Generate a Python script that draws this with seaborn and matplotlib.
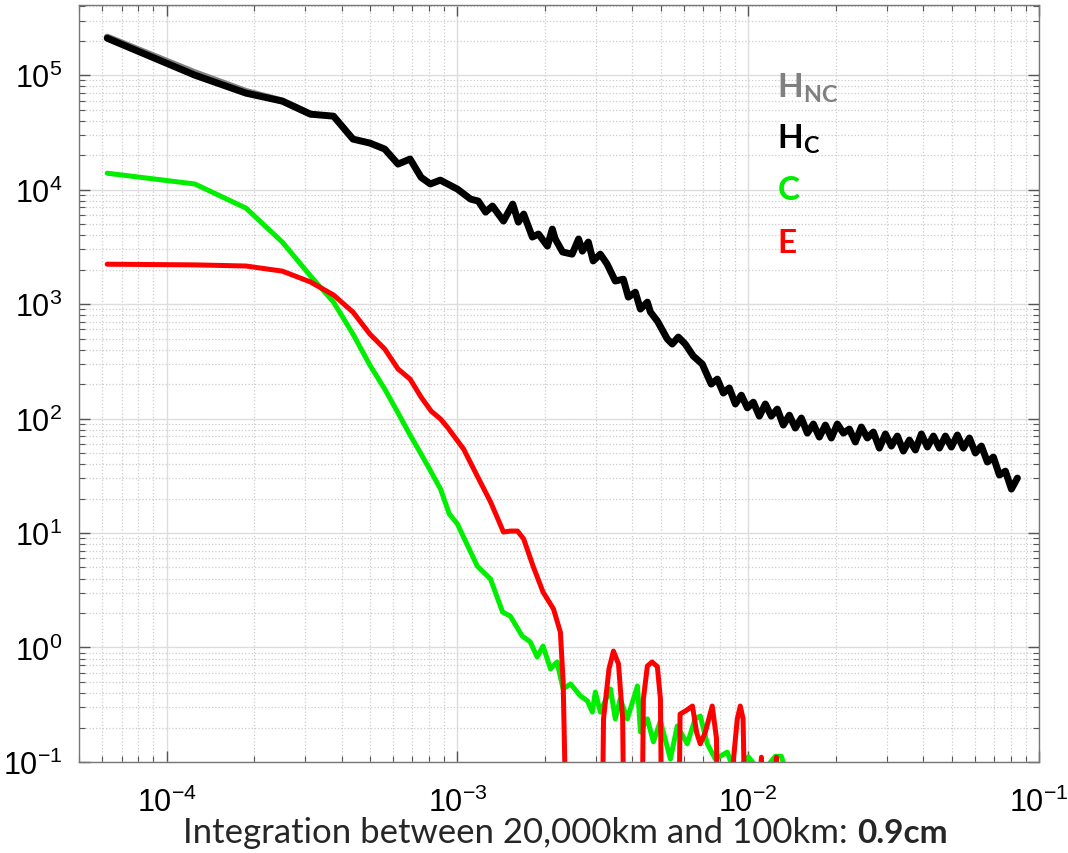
import matplotlib
matplotlib.use("Agg")
import matplotlib.pyplot as plt
from matplotlib.ticker import LogLocator, NullFormatter
import numpy as np
import pandas as pd
import seaborn as sns

# wavenumber (x) and spectral values
hnc_k = [6.25e-5, 1.25e-4, 1.875e-4, 2.5e-4, 3.125e-4]
hnc_val = [2.15e5, 1.05e5, 7.2e4, 5.95e4, 4.56e4]

hc_k = [6.25e-5, 1.25e-4, 1.875e-4, 2.5e-4, 3.125e-4, 3.75e-4, 4.375e-4, 5.0e-4, 5.625e-4, 6.25e-4,
        6.875e-4, 7.5e-4, 8.07e-4, 8.73e-4, 1.0e-3, 1.11e-3, 1.18e-3, 1.25e-3, 1.32e-3, 1.44e-3,
        1.55e-3, 1.62e-3, 1.69e-3, 1.81e-3, 1.90e-3, 2.04e-3, 2.12e-3, 2.17e-3, 2.30e-3, 2.48e-3,
        2.61e-3, 2.69e-3, 2.82e-3, 2.93e-3, 3.10e-3, 3.27e-3, 3.49e-3, 3.72e-3, 3.87e-3, 4.09e-3,
        4.26e-3, 4.50e-3, 4.61e-3, 4.87e-3, 5.27e-3, 5.48e-3, 5.75e-3, 6.07e-3, 6.47e-3, 6.95e-3,
        7.12e-3, 7.46e-3, 7.83e-3, 8.21e-3, 8.61e-3, 9.03e-3, 9.47e-3, 9.93e-3, 1.041e-2, 1.092e-2,
        1.145e-2, 1.20e-2, 1.259e-2, 1.32e-2, 1.385e-2, 1.452e-2, 1.523e-2, 1.597e-2, 1.675e-2, 1.756e-2,
        1.842e-2, 1.931e-2, 2.025e-2, 2.124e-2, 2.227e-2, 2.335e-2, 2.449e-2, 2.568e-2, 2.693e-2, 2.824e-2,
        2.962e-2, 3.106e-2, 3.257e-2, 3.416e-2, 3.582e-2, 3.756e-2, 3.939e-2, 4.13e-2, 4.332e-2, 4.543e-2,
        4.764e-2, 4.995e-2, 5.238e-2, 5.493e-2, 5.761e-2, 6.041e-2, 6.335e-2, 6.643e-2, 6.966e-2, 7.305e-2,
        7.661e-2, 8.034e-2, 8.425e-2]
hc_val = [2.1e5, 1.0e5, 6.96e4, 5.93e4, 4.56e4, 4.38e4, 2.76e4, 2.55e4, 2.26e4, 1.67e4,
          1.85e4, 1.28e4, 1.12e4, 1.21e4, 1.01e4, 8.26e3, 7.94e3, 6.36e3, 7.18e3, 5.31e3,
          7.47e3, 5.20e3, 6.11e3, 3.85e3, 4.09e3, 3.21e3, 4.52e3, 3.70e3, 2.85e3, 2.73e3,
          3.70e3, 2.90e3, 3.48e3, 2.38e3, 2.73e3, 2.24e3, 1.59e3, 1.65e3, 1.15e3, 1.27e3,
          904, 1.04e3, 851, 711, 495, 448, 515, 448, 352, 299,
          260, 200, 221, 167, 185, 134, 160, 124, 139, 105,
          134, 105, 121, 87.7, 107, 82.6, 101, 74.6, 89.5, 68.9,
          87.7, 67.6, 89.5, 74.6, 80.9, 62.4, 84.3, 67.6, 76.2, 55.2,
          73.3, 57.5, 70.3, 52.0, 64.9, 53.1, 73.3, 56.4, 70.3, 55.2,
          70.3, 56.4, 71.8, 55.2, 67.6, 50.0, 57.5, 41.7, 46.1, 32.1,
          34.7, 24.2, 30.2]

c_k = [6.25e-5, 1.25e-4, 1.875e-4, 2.5e-4, 3.125e-4, 3.75e-4, 4.375e-4, 5.0e-4, 5.625e-4, 6.25e-4,
       6.875e-4, 7.5e-4, 8.125e-4, 8.75e-4, 9.375e-4, 1.0e-3, 1.17e-3, 1.30e-3, 1.43e-3, 1.52e-3,
       1.67e-3, 1.78e-3, 1.88e-3, 1.97e-3, 2.09e-3, 2.20e-3, 2.31e-3, 2.45e-3, 2.65e-3, 2.80e-3,
       2.91e-3, 2.98e-3, 3.10e-3, 3.36e-3, 3.49e-3, 3.63e-3, 3.84e-3, 4.16e-3, 4.26e-3, 4.50e-3,
       4.72e-3, 4.99e-3, 5.40e-3, 5.70e-3, 6.17e-3, 6.57e-3, 6.84e-3, 7.23e-3, 7.71e-3, 8.47e-3,
       9.0e-3, 1.0e-2, 1.11e-2, 1.24e-2, 1.30e-2, 1.40e-2]
c_val = [1.39e4, 1.12e4, 6.89e3, 3.48e3, 1.76e3, 1.04e3, 547, 293, 181, 112,
         71.8, 49.0, 34.1, 24.2, 14.7, 12.0, 5.15, 3.96, 2.04, 1.88,
         1.26, 1.12, 0.826, 1.03, 0.649, 0.747, 0.434, 0.48, 0.377, 0.341,
         0.273, 0.408, 0.273, 0.434, 0.238, 0.355, 0.238, 0.461, 0.183, 0.238,
         0.150, 0.228, 0.106, 0.206, 0.144, 0.238, 0.252, 0.144, 0.106, 0.122,
         0.08, 0.111, 0.08, 0.112, 0.112, 0.06]

# values below 0.1 drop out of the plotted range
e_k = [6.25e-5, 1.25e-4, 1.875e-4, 2.5e-4, 3.125e-4, 3.75e-4, 4.375e-4, 5.0e-4, 5.625e-4, 6.25e-4,
       6.875e-4, 7.5e-4, 8.125e-4, 8.75e-4, 9.23e-4, 1.05e-3, 1.17e-3, 1.30e-3, 1.44e-3, 1.52e-3,
       1.61e-3, 1.69e-3, 1.82e-3, 1.97e-3, 2.14e-3, 2.26e-3, 2.31e-3, 2.34e-3, 2.40e-3, 3.10e-3,
       3.18e-3, 3.32e-3, 3.44e-3, 3.58e-3, 3.70e-3, 3.79e-3, 4.26e-3, 4.36e-3, 4.50e-3, 4.67e-3,
       4.87e-3, 4.99e-3, 5.10e-3, 5.70e-3, 5.83e-3, 6.10e-3, 6.43e-3, 6.65e-3, 6.84e-3, 7.11e-3,
       7.52e-3, 7.78e-3, 7.90e-3, 8.9e-3, 9.17e-3, 9.39e-3, 9.60e-3, 1.0e-2, 1.11e-2, 1.17e-2,
       1.25e-2, 1.28e-2]
e_val = [2.23e3, 2.2e3, 2.15e3, 1.94e3, 1.56e3, 1.20e3, 851, 547, 405, 271,
         221, 154, 116, 99, 84.3, 54.2, 31.5, 18.7, 10.2, 10.4,
         10.4, 8.87, 5.15, 3.05, 2.17, 1.36, 0.5, 0.1, 0.001, 0.001,
         0.238, 0.649, 0.93, 0.718, 0.238, 0.001, 0.001, 0.355, 0.689, 0.747,
         0.68, 0.355, 0.001, 0.001, 0.262, 0.28, 0.308, 0.18, 0.144, 0.18,
         0.308, 0.16, 0.001, 0.106, 0.238, 0.308, 0.238, 0.001, 0.11, 0.001,
         0.11, 0.001]

series = [
    (hnc_k, hnc_val, "#808080", 5.0),
    (hc_k, hc_val, "#000000", 5.0),
    (c_k, c_val, "#00ee00", 3.6),
    (e_k, e_val, "#ff0000", 3.6),
]

sns.set_style("ticks")
plt.rcParams["font.family"] = ["Liberation Sans", "DejaVu Sans"]
plt.rcParams["axes.unicode_minus"] = False
plt.rcParams["mathtext.fontset"] = "custom"
plt.rcParams["mathtext.rm"] = "Lato"
plt.rcParams["mathtext.bf"] = "Lato:bold"

fig = plt.figure(figsize=(10.68, 8.54), dpi=100)
ax = fig.add_axes([0.074, 0.1066, 0.8989, 0.8864])

for k, v, col, lw in series:
    df = pd.DataFrame({"k": k, "val": v})
    sns.lineplot(data=df, x="k", y="val", color=col, linewidth=lw,
                 estimator=None, sort=False, ax=ax)

ax.set_xscale("log")
ax.set_yscale("log")
ax.set_xlim(5e-5, 1e-1)
ax.set_ylim(1e-1, 4.1e5)
ax.xaxis.label.set_visible(False)
ax.yaxis.label.set_visible(False)

for axis in (ax.xaxis, ax.yaxis):
    axis.set_major_locator(LogLocator(base=10, numticks=20))
    axis.set_minor_locator(LogLocator(base=10, subs=np.arange(2, 10), numticks=20))
    axis.set_minor_formatter(NullFormatter())

ax.set_axisbelow(True)
ax.grid(which="major", color="#dddddd", linestyle="-", linewidth=1.0)
ax.grid(which="minor", color="#cccccc", linestyle=":", linewidth=0.9)

ax.tick_params(which="both", direction="in", top=True, right=True, colors="#555555",
               labelcolor="black", labelsize=22)
ax.tick_params(which="major", length=8, width=1)
ax.tick_params(which="minor", length=4, width=0.8)
ax.tick_params(axis="y", pad=12)
ax.tick_params(axis="x", pad=18)
for sp in ax.spines.values():
    sp.set_color("#777777")
    sp.set_linewidth(1.0)

# coloured legend labels
labels = [(r"$\mathbf{H_{NC}}$", "#808080", 0.8785),
          (r"$\mathbf{H_{C}}$", "black", 0.811),
          (r"$\mathbf{C}$", "#00ee00", 0.7437),
          (r"$\mathbf{E}$", "#ff0000", 0.6737)]
for txt, col, ypos in labels:
    ax.text(0.727, ypos, txt, color=col, fontsize=24, transform=ax.transAxes,
            ha="left", va="baseline")

fig.text(0.7935, 0.0125, "Integration between 20,000km and 100km:", family="Lato",
         fontsize=25, ha="right", va="baseline")
fig.text(0.8025, 0.0125, "0.9cm", family="Lato", fontweight="bold",
         fontsize=24, ha="left", va="baseline")

fig.savefig("out.png", dpi=100)
